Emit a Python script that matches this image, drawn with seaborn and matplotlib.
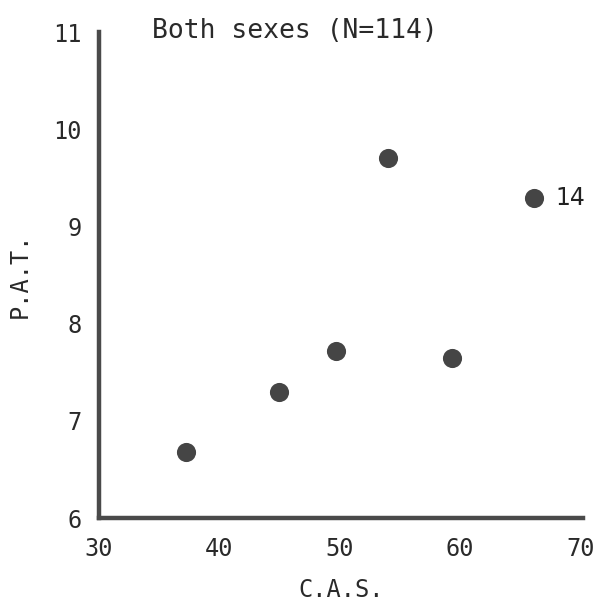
import matplotlib
matplotlib.use("Agg")
import matplotlib.pyplot as plt
import seaborn as sns
import pandas as pd

# Data
cas = [37.2, 45.0, 49.7, 54.0, 59.3, 66.1]
pat = [6.68, 7.30, 7.72, 9.71, 7.65, 9.29]
point_labels = ["", "", "", "", "", "14"]
x_ticks = [30, 40, 50, 60, 70]
y_ticks = [6, 7, 8, 9, 10, 11]
title = "Both sexes (N=114)"
x_label = "C.A.S."
y_label = "P.A.T."

sns.set_theme(style="white")
plt.rcParams['font.family'] = ['DejaVu Sans Mono', 'DejaVu Sans']

df = pd.DataFrame({"CAS": cas, "PAT": pat})

fig = plt.figure(figsize=(5.95, 6.08), dpi=100)
ax = fig.add_axes([0.166, 0.148, 0.814, 0.799])

sns.scatterplot(data=df, x="CAS", y="PAT", ax=ax, s=190, color="#454545",
                edgecolor="#454545", linewidth=0, zorder=3)

for xv, yv, lab in zip(cas, pat, point_labels):
    if lab:
        ax.annotate(lab, (xv, yv), xytext=(16, 0), textcoords="offset points",
                    ha="left", va="center", fontsize=17, color="#222222",
                    family="DejaVu Sans")

ax.set_xlim(30, 70.2)
ax.set_ylim(6, 11)
ax.set_xticks(x_ticks)
ax.set_yticks(y_ticks)
ax.set_xticklabels([str(v) for v in x_ticks])
ax.set_yticklabels([str(v) for v in y_ticks])

for side in ["top", "right"]:
    ax.spines[side].set_visible(False)
for side in ["left", "bottom"]:
    ax.spines[side].set_linewidth(3.2)
    ax.spines[side].set_color("#4a4a4a")

ax.tick_params(axis="both", direction="in", length=4, width=2.5, color="#4a4a4a",
               labelsize=17, labelcolor="#2a2a2a")
ax.tick_params(axis="x", pad=14)
ax.tick_params(axis="y", pad=12)

ax.set_xlabel(x_label, fontsize=17, color="#2a2a2a", labelpad=12)
ax.set_ylabel(y_label, fontsize=17, color="#2a2a2a", labelpad=16)
ax.set_title(title, fontsize=19, color="#2a2a2a", pad=-4, x=0.405)
ax.grid(False)

fig.savefig("out.png", dpi=100, facecolor="white")
